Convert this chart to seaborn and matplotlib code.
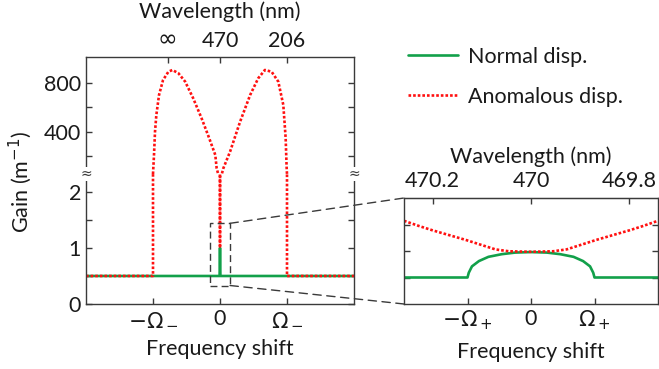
import numpy as np
import matplotlib
matplotlib.use("Agg")
import matplotlib.pyplot as plt
import seaborn as sns
from matplotlib.patches import Rectangle, ConnectionPatch
from matplotlib.lines import Line2D

sns.set_style("ticks")
plt.rcParams['font.family'] = ['Lato', 'DejaVu Sans']
plt.rcParams['mathtext.fontset'] = 'dejavusans'

# ---- data (frequency shift in units of Omega_-) ----
normal_x = [-2.0, -0.006, 0.0, 0.006, 2.0]
normal_gain = [0.5, 0.5, 1.0, 0.5, 0.5]

anom_x = [-2.0, -1.0, -1.0, -0.985, -0.97, -0.95, -0.91, -0.85, -0.77, -0.71,
          -0.62, -0.52, -0.40, -0.275, -0.17, -0.07, -0.05, 0.0,
          0.05, 0.15, 0.30, 0.45, 0.57, 0.67, 0.77, 0.87, 0.945, 0.98,
          0.995, 1.0, 1.0, 2.0]
anom_gain = [0.5, 0.5, 57, 212, 402, 539, 702, 824, 892, 906,
             879, 811, 675, 512, 362, 212, 104, 1.0,
             104, 239, 484, 702, 838, 906, 892, 811, 620, 349,
             104, 57, 0.5, 0.5]

# inset (frequency shift in units of Omega_+)
inset_normal_x = [-2.0, -1.0, -0.98, -0.93, -0.82, -0.67, -0.46, -0.25, 0.0,
                  0.25, 0.46, 0.67, 0.82, 0.93, 0.98, 1.0, 2.0]
inset_normal_gain = [0.5, 0.5, 0.59, 0.71, 0.81, 0.89, 0.94, 0.97, 0.98,
                     0.97, 0.94, 0.89, 0.81, 0.71, 0.59, 0.5, 0.5]
inset_anom_x = [-2.0, -1.76, -1.55, -1.29, -1.03, -0.77, -0.56, -0.35, 0.0,
                0.35, 0.56, 0.77, 1.03, 1.29, 1.55, 1.76, 2.0]
inset_anom_gain = [1.57, 1.47, 1.39, 1.30, 1.21, 1.11, 1.03, 0.995, 0.985,
                   0.995, 1.03, 1.11, 1.21, 1.30, 1.39, 1.47, 1.57]

main_ticks = [-1, 0, 1]
main_ticklabels = [r'$-\Omega_-$', '0', r'$\Omega_-$']
wl_ticks = [-0.78, 0, 1.0]
wl_labels = ['∞', '470', '206']
inset_ticks = [-1, 0, 1]
inset_ticklabels = [r'$-\Omega_+$', '0', r'$\Omega_+$']
inset_wl_ticks = [-1.55, 0, 1.55]
inset_wl_labels = ['470.2', '470', '469.8']

green = '#12a04a'
red = '#ff1010'
dark = '#3a3a3a'
txt = '#1a1a1a'
fs = 15.5

W, H = 659, 369
fig = plt.figure(figsize=(W / 100, H / 100), dpi=100)


def box(x0, y0, x1, y1):
    return [x0 / W, 1 - y1 / H, (x1 - x0) / W, (y1 - y0) / H]


ax_top = fig.add_axes(box(86, 57, 354, 174))
ax_bot = fig.add_axes(box(86, 174, 354, 304))
ax_in = fig.add_axes(box(404, 198, 658, 304))

dotted = (0, (1, 0.75))

for ax in (ax_top, ax_bot):
    sns.lineplot(x=normal_x, y=normal_gain, ax=ax, color=green, lw=1.9,
                 estimator=None, sort=False)
    sns.lineplot(x=anom_x, y=anom_gain, ax=ax, color=red, lw=1.9,
                 linestyle=dotted, estimator=None, sort=False)
    ax.set_xlim(-2, 2)
    ax.set_xlabel('')
    ax.set_ylabel('')
    for s in ax.spines.values():
        s.set_color(dark)
        s.set_linewidth(1.0)
    ax.tick_params(direction='in', length=4, width=1, color=dark,
                   labelsize=fs, labelcolor=txt, right=True)

ax_top.set_ylim(57, 1012)
ax_top.set_yticks([200, 400, 600, 800])
ax_top.set_yticklabels(['', '400', '', '800'])
ax_top.spines['bottom'].set_visible(False)
ax_top.tick_params(axis='x', bottom=False, labelbottom=False, top=True,
                   labeltop=True, pad=4)
ax_top.set_xticks(wl_ticks)
ax_top.set_xticklabels(wl_labels)
inf_label = ax_top.get_xticklabels()[0]
inf_label.set_fontfamily('DejaVu Sans')
inf_label.set_fontsize(17)
ax_top.xaxis.set_label_position('top')
ax_top.set_xlabel('Wavelength (nm)', fontsize=fs, color=txt, va='center')
ax_top.xaxis.set_label_coords(0.5, 1 + 45 / 117)

ax_bot.set_ylim(0, 2.32)
ax_bot.set_yticks([0, 0.5, 1, 1.5, 2])
ax_bot.set_yticklabels(['0', '', '1', '', '2'])
ax_bot.spines['top'].set_visible(False)
ax_bot.set_xticks(main_ticks)
ax_bot.set_xticklabels(main_ticklabels)
ax_bot.set_xlabel('Frequency shift', fontsize=fs, color=txt, labelpad=7)

# zoom box on the main panel
ax_bot.add_patch(Rectangle((-0.15, 0.33), 0.30, 1.11, fill=False, ec=dark,
                           lw=1.0, ls=(0, (5, 3)), zorder=5))

# inset
sns.lineplot(x=inset_normal_x, y=inset_normal_gain, ax=ax_in, color=green,
             lw=1.9, estimator=None, sort=False)
sns.lineplot(x=inset_anom_x, y=inset_anom_gain, ax=ax_in, color=red, lw=1.9,
             linestyle=dotted, estimator=None, sort=False)
ax_in.set_xlim(-2, 2)
ax_in.set_ylim(0, 2)
ax_in.set_ylabel('')
ax_in.set_yticks([0.5, 1, 1.5])
ax_in.set_yticklabels([])
ax_in.set_xticks(inset_ticks)
ax_in.set_xticklabels(inset_ticklabels)
ax_in.set_xlabel('Frequency shift', fontsize=fs, color=txt, labelpad=7)
for s in ax_in.spines.values():
    s.set_color(dark)
    s.set_linewidth(1.0)
ax_in.tick_params(direction='in', length=4, width=1, color=dark,
                  labelsize=fs, labelcolor=txt, right=True)
sec = ax_in.secondary_xaxis('top')
sec.set_xticks(inset_wl_ticks)
sec.set_xticklabels(inset_wl_labels)
sec.tick_params(direction='in', length=4, width=1, color=dark,
                labelsize=fs, labelcolor=txt, pad=5)
sec.spines['top'].set_color(dark)
sec.set_xlabel('Wavelength (nm)', fontsize=fs, color=txt, labelpad=6)

# connector lines
for (yb, yi) in ((1.44, 1.0), (0.33, 0.0)):
    con = ConnectionPatch(xyA=(0.15, yb), coordsA=ax_bot.transData,
                          xyB=(0.0, yi), coordsB=ax_in.transAxes,
                          color=dark, lw=1.0, ls=(0, (6, 4)))
    fig.add_artist(con)

# axis break marks
for xp in (86, 354):
    fig.text(xp / W, 1 - 174 / H, '≈', ha='center', va='center', fontsize=10,
             color=dark, bbox=dict(fc='white', ec='none', pad=0.2),
             family='DejaVu Sans')

fig.text(20 / W, 1 - 182 / H, 'Gain (m$^{-1}$)', rotation=90, ha='center',
         va='center', fontsize=fs, color=txt)

handles = [Line2D([], [], color=green, lw=1.9),
           Line2D([], [], color=red, lw=1.9, linestyle=dotted)]
fig.legend(handles, ['Normal disp.', 'Anomalous disp.'], loc='upper left',
           bbox_to_anchor=(408 / W, 1 - 47 / H), frameon=False, fontsize=fs,
           handlelength=2.3, handletextpad=0.5, labelspacing=0.93,
           borderpad=0, borderaxespad=0, labelcolor=txt)

fig.savefig('out.png', dpi=100)
